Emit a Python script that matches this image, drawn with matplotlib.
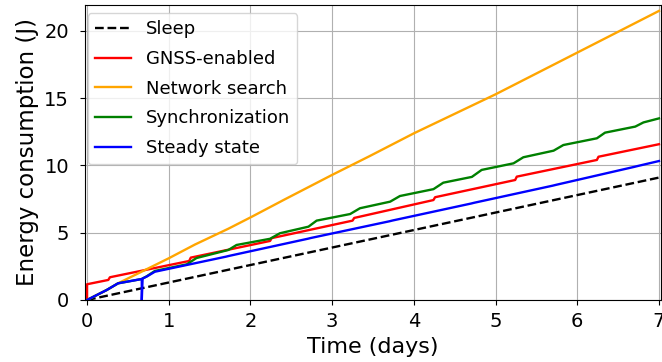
import matplotlib
matplotlib.use("Agg")
import matplotlib.pyplot as plt

# values (days, joules)
sleep_t = [0.0, 7.0]
sleep_e = [0.0, 9.1]

gnss_t = [0.0, 0.0, 0.26, 0.28, 1.25, 1.27, 2.24, 2.26, 3.25, 3.27,
          4.24, 4.26, 5.24, 5.26, 6.24, 6.26, 7.0]
gnss_e = [0.0, 1.17, 1.49, 1.69, 2.9, 3.15, 4.39, 4.6, 5.9, 6.1,
          7.43, 7.64, 8.92, 9.17, 10.41, 10.65, 11.58]

search_t = [0.0, 0.24, 0.38, 0.71, 1.0, 1.32, 1.73, 2.02, 2.42, 3.0,
            3.46, 4.0, 5.0, 6.0, 7.0]
search_e = [0.0, 0.74, 1.24, 2.23, 3.1, 4.12, 5.3, 6.2, 7.48, 9.3,
            10.7, 12.39, 15.29, 18.39, 21.49]

sync_t = [0.0, 0.24, 0.38, 0.67, 0.73, 0.83, 1.22, 1.34, 1.73, 1.83,
          2.24, 2.36, 2.71, 2.81, 3.22, 3.34, 3.71, 3.83, 4.24, 4.36,
          4.71, 4.83, 5.22, 5.34, 5.71, 5.83, 6.24, 6.34, 6.71, 6.81, 7.0]
sync_e = [0.0, 0.74, 1.24, 1.56, 1.76, 2.16, 2.65, 3.12, 3.72, 4.09,
          4.55, 4.96, 5.45, 5.9, 6.39, 6.82, 7.31, 7.73, 8.24, 8.72,
          9.15, 9.67, 10.16, 10.61, 11.1, 11.52, 12.02, 12.44, 12.89, 13.2, 13.5]

steady_t = [0.0, 0.24, 0.38, 0.67, 0.67, 0.68, 0.73, 0.83, 1.7, 1.74,
            2.7, 2.74, 3.7, 3.74, 4.7, 4.74, 5.7, 5.74, 6.7, 6.74, 7.0]
steady_e = [0.0, 0.74, 1.24, 1.56, 0.0, 1.6, 1.74, 2.1, 3.22, 3.28,
            4.55, 4.61, 5.85, 5.91, 7.17, 7.23, 8.5, 8.56, 9.9, 9.96, 10.33]

fig = plt.figure(figsize=(6.62, 3.62), dpi=100)
ax = fig.add_axes([0.1284, 0.1713, 0.8701, 0.8149])

ax.plot(sleep_t, sleep_e, 'k--', lw=1.7, label='Sleep')
ax.plot(gnss_t, gnss_e, color='red', lw=1.7, label='GNSS-enabled')
ax.plot(search_t, search_e, color='orange', lw=1.7, label='Network search')
ax.plot(sync_t, sync_e, color='green', lw=1.7, label='Synchronization')
ax.plot(steady_t, steady_e, color='blue', lw=1.7, label='Steady state')

ax.set_xlim(-0.025, 7.025)
ax.set_ylim(0, 21.93)
ax.set_xticks(range(0, 8))
ax.set_yticks([0, 5, 10, 15, 20])
ax.tick_params(labelsize=14)
ax.tick_params(axis='y', pad=8)
ax.tick_params(axis='x', pad=5.5)
ax.grid(True)
ax.set_xlabel('Time (days)', fontsize=16)
ax.set_ylabel('Energy consumption (J)', fontsize=16.5)
ax.legend(loc='upper left', fontsize=13, bbox_to_anchor=(0.005, 0.973),
          borderaxespad=0, labelspacing=0.65)

fig.savefig('out.png', dpi=100)
